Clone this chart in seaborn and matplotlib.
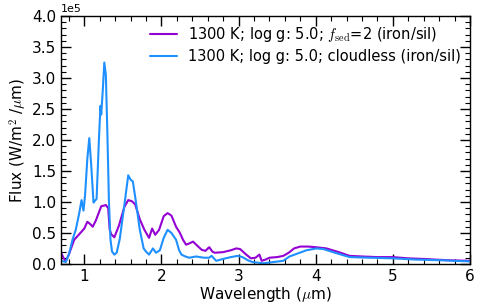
import pandas as pd
import matplotlib
matplotlib.use("Agg")
import matplotlib.pyplot as plt
from matplotlib.ticker import MultipleLocator
import seaborn as sns

# spectra (wavelength in micron, flux in 1e5 W/m^2/um)
wl_cloudy = [0.70, 0.73, 0.76, 0.80, 0.87, 0.95, 1.00, 1.04, 1.08, 1.11, 1.15, 1.22,
             1.28, 1.31, 1.33, 1.35, 1.39, 1.45, 1.52, 1.57, 1.62, 1.66, 1.72, 1.78,
             1.84, 1.88, 1.92, 1.97, 2.03, 2.08, 2.13, 2.19, 2.24, 2.28, 2.32, 2.36,
             2.41, 2.46, 2.52, 2.57, 2.62, 2.66, 2.69, 2.80, 2.90, 2.97, 3.02, 3.10,
             3.16, 3.22, 3.27, 3.30, 3.35, 3.40, 3.50, 3.58, 3.65, 3.72, 3.80, 3.90,
             4.00, 4.14, 4.30, 4.44, 4.60, 4.80, 5.00, 5.20, 5.40, 5.70, 6.00]
flux_cloudy = [0.18, 0.10, 0.04, 0.15, 0.39, 0.50, 0.57, 0.68, 0.64, 0.60, 0.70, 0.93,
               0.95, 0.90, 0.55, 0.48, 0.43, 0.62, 0.92, 1.03, 1.01, 0.96, 0.72, 0.55,
               0.42, 0.57, 0.47, 0.55, 0.77, 0.82, 0.78, 0.60, 0.50, 0.39, 0.31, 0.33,
               0.36, 0.30, 0.23, 0.21, 0.27, 0.20, 0.18, 0.19, 0.22, 0.25, 0.24, 0.15,
               0.09, 0.10, 0.15, 0.05, 0.07, 0.10, 0.11, 0.13, 0.18, 0.25, 0.28, 0.28,
               0.27, 0.25, 0.19, 0.13, 0.12, 0.11, 0.11, 0.09, 0.08, 0.06, 0.05]

wl_clear = [0.70, 0.76, 0.80, 0.85, 0.89, 0.935, 0.965, 0.99, 1.01, 1.04, 1.065, 1.09,
            1.12, 1.14, 1.16, 1.19, 1.21, 1.22, 1.24, 1.26, 1.28, 1.30, 1.32, 1.34,
            1.36, 1.39, 1.42, 1.46, 1.52, 1.57, 1.60, 1.63, 1.67, 1.72, 1.77, 1.80,
            1.84, 1.89, 1.93, 1.98, 2.03, 2.08, 2.13, 2.19, 2.23, 2.26, 2.31, 2.36,
            2.45, 2.55, 2.62, 2.65, 2.71, 2.80, 2.90, 2.99, 3.05, 3.12, 3.18, 3.25,
            3.32, 3.45, 3.58, 3.66, 3.77, 3.88, 4.01, 4.10, 4.25, 4.44, 4.70, 5.00,
            5.30, 5.60, 6.00]
flux_clear = [0.05, 0.03, 0.15, 0.40, 0.55, 0.82, 1.03, 0.86, 1.10, 1.70, 2.03, 1.60,
              0.99, 1.02, 1.05, 2.00, 2.55, 2.41, 2.80, 3.25, 3.05, 2.10, 1.00, 0.39,
              0.20, 0.15, 0.18, 0.40, 0.95, 1.43, 1.36, 1.33, 1.00, 0.55, 0.25, 0.20,
              0.15, 0.25, 0.18, 0.22, 0.42, 0.55, 0.50, 0.39, 0.22, 0.15, 0.12, 0.10,
              0.12, 0.10, 0.10, 0.13, 0.05, 0.08, 0.11, 0.13, 0.11, 0.06, 0.03, 0.02,
              0.01, 0.03, 0.05, 0.12, 0.17, 0.22, 0.25, 0.24, 0.18, 0.11, 0.10, 0.09,
              0.07, 0.06, 0.04]

label_cloudy = r"1300 K; log g: 5.0; $f_{\rm sed}$=2 (iron/sil)"
label_clear = "1300 K; log g: 5.0; cloudless (iron/sil)"

df = pd.concat([
    pd.DataFrame({"wl": wl_cloudy, "flux": [f * 1e5 for f in flux_cloudy], "model": label_cloudy}),
    pd.DataFrame({"wl": wl_clear, "flux": [f * 1e5 for f in flux_clear], "model": label_clear}),
])

sns.set_style("ticks")
plt.rcParams["font.family"] = ["DejaVu Sans"]
plt.rcParams["mathtext.fontset"] = "cm"
for key in ["text.color", "axes.labelcolor", "axes.edgecolor", "xtick.color", "ytick.color"]:
    plt.rcParams[key] = "black"

fig = plt.figure(figsize=(4.85, 3.03), dpi=100)
ax = fig.add_axes([0.126, 0.129, 0.843, 0.818])
sns.lineplot(data=df, x="wl", y="flux", hue="model", sort=False,
             palette=["#9400D3", "#1E90FF"], linewidth=1.5, ax=ax)

ax.set_xlim(0.7, 6)
ax.set_ylim(0, 4e5)
ax.xaxis.set_major_locator(MultipleLocator(1))
ax.xaxis.set_minor_locator(MultipleLocator(0.2))
ax.yaxis.set_major_locator(MultipleLocator(0.5e5))
ax.yaxis.set_minor_locator(MultipleLocator(0.1e5))
ax.ticklabel_format(axis="y", style="sci", scilimits=(0, 0))
ax.yaxis.get_offset_text().set_fontsize(8)
for spine in ax.spines.values():
    spine.set_linewidth(1.0)
ax.tick_params(which="both", direction="in", top=True, right=True, labelsize=11)
ax.tick_params(which="major", length=7, width=1)
ax.tick_params(which="minor", length=3.5, width=0.8)
ax.set_xlabel(r"Wavelength ($\mu$m)", fontsize=11, labelpad=1)
ax.set_ylabel(r"Flux (W/m$^2$ /$\mu$m)", fontsize=11, labelpad=2)
ax.legend(loc="upper right", frameon=False, fontsize=10.5, handlelength=1.8,
          borderaxespad=0.2, labelspacing=0.35, title=None)

fig.savefig("out.png", dpi=100)
